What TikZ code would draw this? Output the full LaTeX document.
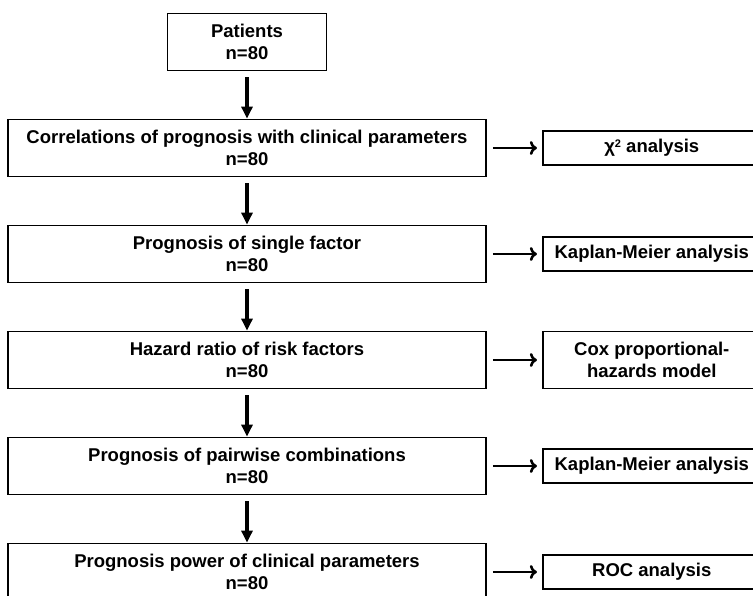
\documentclass[tikz,border=0pt]{standalone}
\usepackage{fontspec}
\setmainfont{Liberation Sans}
\usetikzlibrary{arrows.meta, positioning}

\begin{document}
\begin{tikzpicture}[
  x=1pt, y=1pt,
  node distance=47.2pt and 55pt,
  font=\bfseries\fontsize{18.5}{21.5}\selectfont,
  box/.style={draw, line width=1.8pt, align=center, minimum width=478pt, minimum height=57pt, inner sep=0pt},
  side/.style={draw, line width=1.8pt, align=center, minimum width=218pt, minimum height=34pt, inner sep=0pt},
  down/.style={-{Triangle[length=12pt, width=11pt]}, line width=3.5pt, shorten <=6pt},
  arrow/.style={-{To[length=7pt, width=14pt]}, line width=2.6pt, shorten <=6pt, shorten >=5pt}
]
\useasboundingbox (0,0) rectangle (753,-596);

\node[box, minimum width=159pt] (patients) at (247,-42) {Patients\\n=80};
\node[box, below=of patients] (corr) {Correlations of prognosis with clinical parameters\\n=80};
\node[box, below=of corr] (single) {Prognosis of single factor\\n=80};
\node[box, below=of single] (hazard) {Hazard ratio of risk factors\\n=80};
\node[box, below=of hazard] (pairs) {Prognosis of pairwise combinations\\n=80};
\node[box, below=of pairs] (power) {Prognosis power of clinical parameters\\n=80};

\node[side, right=of corr] (chi) {χ\raisebox{0.5ex}{\fontsize{11}{11}\selectfont 2} analysis};
\node[side, right=of single] (km1) {Kaplan-Meier analysis};
\node[side, right=of hazard, minimum height=57pt] (cox) {Cox proportional-\\hazards model};
\node[side, right=of pairs] (km2) {Kaplan-Meier analysis};
\node[side, right=of power] (roc) {ROC analysis};

\draw[down] (patients) -- (corr);
\draw[down] (corr) -- (single);
\draw[down] (single) -- (hazard);
\draw[down] (hazard) -- (pairs);
\draw[down] (pairs) -- (power);

\draw[arrow] (corr) -- (chi);
\draw[arrow] (single) -- (km1);
\draw[arrow] (hazard) -- (cox);
\draw[arrow] (pairs) -- (km2);
\draw[arrow] (power) -- (roc);
\end{tikzpicture}
\end{document}
